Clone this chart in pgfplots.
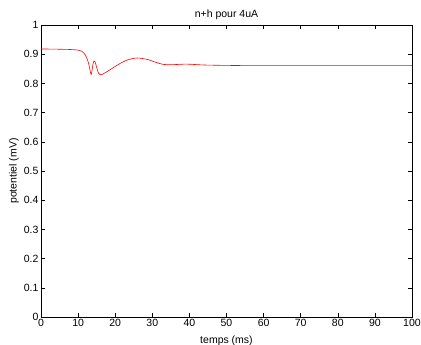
\documentclass[border=0pt]{standalone}
\usepackage{fontspec}
\setmainfont{Liberation Sans}
\usepackage{pgfplots}
\pgfplotsset{compat=1.18}
\begin{document}
\begin{tikzpicture}
\begin{axis}[
  scale only axis,
  width=371pt, height=292pt,
  xmin=0, xmax=100, ymin=0, ymax=1,
  xtick={0,10,...,100},
  ytick={0,0.1,...,1},
  yticklabels={0,0.1,0.2,0.3,0.4,0.5,0.6,0.7,0.8,0.9,1},
  tick align=inside,
  tick pos=both,
  major tick length=4pt,
  axis line style={line width=0.8pt},
  tick style={black, line width=0.5pt},
  /pgf/number format/assume math mode=true,
  tick label style={font=\fontsize{10.5}{11}\selectfont},
  label style={font=\fontsize{10.5}{11}\selectfont},
  title style={font=\fontsize{10.5}{11}\selectfont, at={(axis description cs:0.5,1.0137)}, anchor=center, yshift=0pt},
  title={n+h pour 4uA},
  xlabel={temps (ms)},
  ylabel={potentiel (mV)},
  xlabel style={at={(axis description cs:0.5,-0.0805)}, anchor=center},
  ylabel style={at={(axis description cs:-0.0728,0.5)}, anchor=center},
  xticklabel style={yshift=1pt},
  yticklabel style={xshift=1pt},
]
\addplot[red, line width=0.6pt, smooth, tension=0.5] coordinates {
(0,0.918) (5,0.917) (8,0.916) (10,0.914) (11,0.910) (11.8,0.900) (12.4,0.885)
(12.9,0.865) (13.3,0.840) (13.5,0.831) (13.7,0.840) (14.0,0.865) (14.3,0.877)
(14.6,0.873) (15.0,0.855) (15.5,0.835) (16,0.829) (16.5,0.831) (17.5,0.838)
(19,0.850) (21,0.866) (23,0.879) (25,0.886) (26,0.887) (27,0.886) (29,0.881)
(31,0.872) (33,0.865) (35,0.864) (37,0.865) (39,0.866) (41,0.865) (44,0.863)
(48,0.862) (55,0.861) (65,0.861) (80,0.861) (100,0.861)
};
\end{axis}
\path (current axis.south west) ++(-41pt,-28pt) coordinate (bbsw);
\path (current axis.north east) ++(9pt,25pt) coordinate (bbne);
\pgfresetboundingbox
\useasboundingbox (bbsw) rectangle (bbne);
\end{tikzpicture}
\end{document}
